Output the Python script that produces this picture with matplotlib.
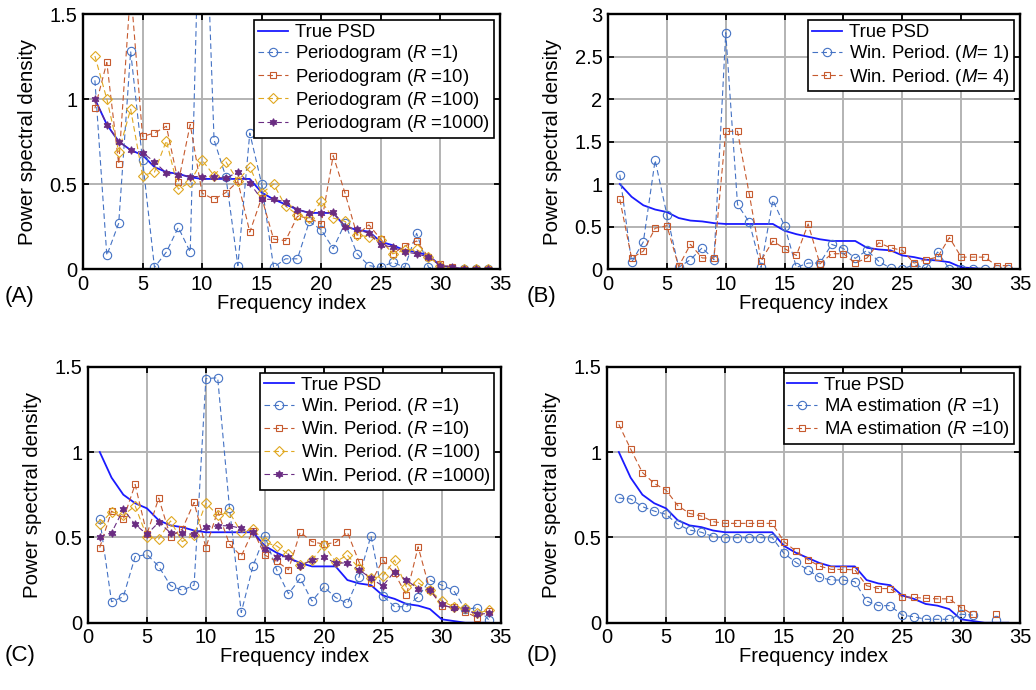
import numpy as np
import matplotlib
matplotlib.use('Agg')
import matplotlib.pyplot as plt
from matplotlib.ticker import FuncFormatter

plt.rcParams['font.family'] = ['Liberation Sans', 'DejaVu Sans']
plt.rcParams['mathtext.fontset'] = 'custom'
plt.rcParams['mathtext.rm'] = 'Liberation Sans'
plt.rcParams['mathtext.it'] = 'Liberation Sans:italic'

freq = np.arange(1, 35)

true_psd = [1.0, 0.85, 0.75, 0.70, 0.67, 0.60, 0.57, 0.56, 0.54, 0.53, 0.53, 0.53, 0.53, 0.53,
            0.45, 0.41, 0.38, 0.35, 0.33, 0.33, 0.33, 0.25, 0.23, 0.22, 0.16, 0.14, 0.11, 0.10,
            0.08, 0.02, 0.01, 0.0, 0.0, 0.0]

# (A) periodogram
per_r1 = [1.11, 0.08, 0.27, 1.28, 0.64, 0.01, 0.10, 0.245, 0.10, 2.77, 0.76, 0.54, 0.02, 0.80,
          0.50, 0.01, 0.06, 0.06, 0.28, 0.23, 0.12, 0.27, 0.09, 0.02, 0.01, 0.04, 0.01, 0.21,
          0.01, 0.0, 0.0, 0.0, 0.0, 0.0]
per_r10 = [0.945, 1.215, 0.617, 1.65, 0.78, 0.80, 0.84, 0.51, 0.85, 0.446, 0.41, 0.45, 0.515, 0.217,
           0.42, 0.176, 0.167, 0.31, 0.30, 0.265, 0.667, 0.445, 0.20, 0.26, 0.175, 0.09, 0.135, 0.165,
           0.07, 0.03, 0.01, 0.0, 0.0, 0.0]
per_r100 = [1.253, 1.0, 0.69, 0.94, 0.55, 0.57, 0.755, 0.47, 0.51, 0.64, 0.55, 0.63, 0.52, 0.60,
            0.445, 0.50, 0.37, 0.32, 0.30, 0.40, 0.30, 0.28, 0.20, 0.19, 0.17, 0.09, 0.11, 0.115,
            0.07, 0.02, 0.0, 0.0, 0.0, 0.0]
per_r1000 = [1.0, 0.85, 0.75, 0.70, 0.685, 0.63, 0.564, 0.554, 0.544, 0.544, 0.54, 0.535, 0.57, 0.505,
             0.41, 0.41, 0.396, 0.35, 0.33, 0.33, 0.333, 0.25, 0.233, 0.21, 0.14, 0.13, 0.10, 0.09,
             0.07, 0.02, 0.01, 0.0, 0.0, 0.0]

# (B) windowed periodogram, one run
win_m1 = [1.11, 0.08, 0.32, 1.28, 0.64, 0.02, 0.11, 0.25, 0.11, 2.78, 0.76, 0.55, 0.02, 0.81,
          0.506, 0.02, 0.07, 0.07, 0.29, 0.24, 0.125, 0.22, 0.09, 0.01, 0.0, 0.05, 0.01, 0.20,
          0.0, 0.0, 0.0, 0.0, 0.0, 0.0]
win_m4 = [0.82, 0.13, 0.21, 0.48, 0.51, 0.03, 0.29, 0.13, 0.13, 1.62, 1.62, 0.88, 0.10, 0.33,
          0.24, 0.16, 0.53, 0.06, 0.18, 0.18, 0.07, 0.13, 0.31, 0.25, 0.22, 0.07, 0.11, 0.14,
          0.37, 0.14, 0.14, 0.14, 0.04, 0.04]

# (C) windowed periodogram, averaged
wp_r1 = [0.607, 0.123, 0.152, 0.387, 0.40, 0.33, 0.217, 0.19, 0.22, 1.43, 1.435, 0.674, 0.06, 0.334,
         0.51, 0.31, 0.17, 0.26, 0.127, 0.21, 0.148, 0.113, 0.27, 0.51, 0.158, 0.094, 0.094, 0.152,
         0.25, 0.22, 0.19, 0.078, 0.088, 0.016]
wp_r10 = [0.44, 0.654, 0.607, 0.81, 0.518, 0.73, 0.504, 0.549, 0.705, 0.44, 0.654, 0.46, 0.39, 0.54,
          0.396, 0.36, 0.31, 0.53, 0.475, 0.46, 0.47, 0.53, 0.354, 0.234, 0.367, 0.29, 0.162, 0.445,
          0.19, 0.10, 0.09, 0.064, 0.03, 0.068]
wp_r100 = [0.576, 0.65, 0.63, 0.684, 0.504, 0.49, 0.596, 0.475, 0.514, 0.70, 0.63, 0.646, 0.53, 0.55,
           0.47, 0.45, 0.40, 0.338, 0.367, 0.455, 0.357, 0.396, 0.318, 0.26, 0.273, 0.367, 0.21, 0.234,
           0.19, 0.127, 0.094, 0.084, 0.055, 0.074]
wp_r1000 = [0.504, 0.527, 0.664, 0.576, 0.518, 0.588, 0.527, 0.523, 0.518, 0.559, 0.568, 0.568, 0.553, 0.53,
            0.43, 0.387, 0.387, 0.334, 0.367, 0.383, 0.35, 0.35, 0.31, 0.26, 0.215, 0.30, 0.25, 0.20,
            0.19, 0.107, 0.084, 0.078, 0.049, 0.055]

# (D) MA estimation
ma_r1 = [0.73, 0.725, 0.68, 0.654, 0.635, 0.576, 0.543, 0.53, 0.504, 0.498, 0.498, 0.498, 0.498, 0.498,
         0.406, 0.354, 0.31, 0.266, 0.25, 0.25, 0.24, 0.127, 0.10, 0.10, 0.045, 0.035, 0.02, 0.02,
         0.02, 0.05, 0.045, np.nan, 0.016, np.nan]
ma_r10 = [1.162, 1.018, 0.88, 0.816, 0.777, 0.686, 0.64, 0.625, 0.592, 0.582, 0.582, 0.582, 0.582, 0.582,
          0.475, 0.42, 0.37, 0.332, 0.3125, 0.3125, 0.31, 0.217, 0.20, 0.20, 0.152, 0.148, 0.143, 0.14,
          0.14, 0.088, 0.05, np.nan, 0.05, np.nan]

BLUE = '#4472c4'
RED = '#c65a2e'
YELLOW = '#e0a821'
PURPLE = '#6a2c82'
TRUE_C = '#1a1aff'
STAR = (6, 1, 0)


def est(ax, y, color, marker, label, ms=6, filled=False):
    ax.plot(freq, y, ls=(0, (5, 3)), lw=0.8, color=color, marker=marker, ms=ms,
            mfc=color if filled else 'none', mew=0.8, label=label)


def style(ax, ymax, ystep):
    ax.set_xlim(0, 35)
    ax.set_ylim(0, ymax)
    ax.set_xticks(range(0, 36, 5))
    ax.set_yticks(np.arange(0, ymax + 0.01, ystep))
    ax.yaxis.set_major_formatter(FuncFormatter(lambda v, p: f'{v:g}'))
    ax.grid(True, color='#b3b3b3', lw=1.4)
    ax.set_axisbelow(True)
    ax.tick_params(direction='in', top=True, right=True, labelsize=14.5, length=4, width=1.3, pad=4)
    for s in ax.spines.values():
        s.set_linewidth(1.7)
    ax.set_xlabel('Frequency index', fontsize=14.5, labelpad=0)
    ax.set_ylabel('Power spectral density', fontsize=14.8, labelpad=9)
    leg = ax.legend(loc='upper right', fontsize=13.3, fancybox=False, edgecolor='black', framealpha=1,
                    handlelength=1.6, handletextpad=0.4, borderpad=0.2, labelspacing=0.12,
                    borderaxespad=0.35)
    leg.get_frame().set_linewidth(1.2)


fig = plt.figure(figsize=(10.36, 6.9), dpi=100)
axA = fig.add_axes([0.0801, 0.6101, 0.4025, 0.3696])
axB = fig.add_axes([0.5869, 0.6101, 0.3977, 0.3696])
axC = fig.add_axes([0.0849, 0.0975, 0.3984, 0.3711])
axD = fig.add_axes([0.5859, 0.0975, 0.3987, 0.3711])

axA.plot(freq, true_psd, color=TRUE_C, lw=1.3, label='True PSD')
est(axA, per_r1, BLUE, 'o', r'Periodogram ($R$ =1)')
est(axA, per_r10, RED, 's', r'Periodogram ($R$ =10)', ms=5)
est(axA, per_r100, YELLOW, 'D', r'Periodogram ($R$ =100)', ms=5)
est(axA, per_r1000, PURPLE, STAR, r'Periodogram ($R$ =1000)', ms=5.5, filled=True)
style(axA, 1.5, 0.5)

axB.plot(freq, true_psd, color=TRUE_C, lw=1.3, label='True PSD')
est(axB, win_m1, BLUE, 'o', r'Win. Period. ($M$= 1)')
est(axB, win_m4, RED, 's', r'Win. Period. ($M$= 4)', ms=5)
style(axB, 3, 0.5)

axC.plot(freq, true_psd, color=TRUE_C, lw=1.3, label='True PSD')
est(axC, wp_r1, BLUE, 'o', r'Win. Period. ($R$ =1)')
est(axC, wp_r10, RED, 's', r'Win. Period. ($R$ =10)', ms=5)
est(axC, wp_r100, YELLOW, 'D', r'Win. Period. ($R$ =100)', ms=5)
est(axC, wp_r1000, PURPLE, STAR, r'Win. Period. ($R$ =1000)', ms=5.5, filled=True)
style(axC, 1.5, 0.5)

axD.plot(freq, true_psd, color=TRUE_C, lw=1.3, label='True PSD')
est(axD, ma_r1, BLUE, 'o', r'MA estimation ($R$ =1)')
est(axD, ma_r10, RED, 's', r'MA estimation ($R$ =10)', ms=5)
style(axD, 1.5, 0.5)

for x, y, t in [(0.004, 0.5696, '(A)'), (0.508, 0.5696, '(B)'),
                (0.004, 0.0507, '(C)'), (0.508, 0.0507, '(D)')]:
    fig.text(x, y, t, fontsize=16, va='center', ha='left')

fig.savefig('out.png', dpi=100)
